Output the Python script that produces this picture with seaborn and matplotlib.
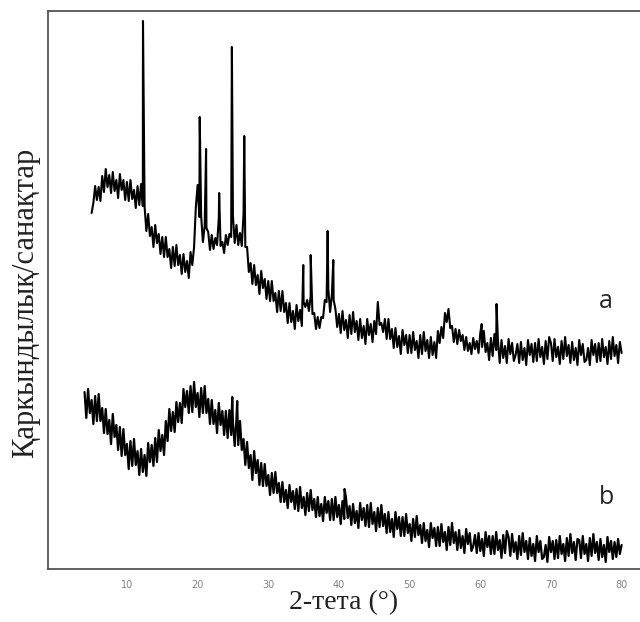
import numpy as np
import pandas as pd
import seaborn as sns
import matplotlib.pyplot as plt

# curve a: 5..80 deg, step 0.25
two_theta_a = np.arange(5, 80.001, 0.25)
intensity_a = [
    356, 366, 383, 369, 382, 368, 393, 377, 400, 382, 394, 376, 397, 378, 389, 371, 395, 379, 389, 369,
    387, 368, 389, 370, 379, 361, 383, 364, 385, 363, 362, 338, 355, 333, 342, 322, 344, 326, 335, 315,
    332, 312, 332, 312, 320, 301, 322, 303, 324, 304, 314, 295, 315, 297, 308, 291, 317, 304, 322, 362,
    384, 352, 353, 327, 343, 341, 337, 319, 334, 320, 331, 324, 351, 323, 327, 316, 334, 324, 335, 332,
    353, 326, 344, 324, 336, 323, 355, 322, 322, 297, 306, 285, 304, 284, 294, 275, 298, 281, 290, 270,
    288, 268, 288, 268, 276, 257, 278, 258, 278, 257, 266, 246, 266, 247, 258, 240, 264, 248, 259, 243,
    267, 262, 269, 258, 273, 255, 256, 240, 252, 241, 252, 251, 269, 267, 280, 257, 274, 269, 260, 242,
    255, 236, 258, 239, 249, 231, 254, 235, 257, 237, 248, 229, 250, 231, 243, 225, 250, 234, 245, 227,
    248, 235, 267, 244, 246, 237, 250, 230, 250, 230, 240, 221, 241, 222, 233, 215, 239, 224, 234, 216,
    234, 216, 237, 219, 228, 211, 234, 215, 237, 218, 229, 211, 232, 214, 227, 211, 238, 226, 242, 231,
    256, 247, 260, 241, 243, 227, 240, 225, 239, 228, 234, 219, 232, 218, 226, 215, 231, 220, 228, 216,
    236, 222, 238, 217, 226, 209, 231, 213, 235, 219, 228, 206, 229, 211, 223, 206, 230, 215, 226, 208,
    214, 225, 206, 227, 209, 221, 204, 229, 214, 225, 207, 226, 208, 230, 212, 222, 205, 228, 210, 232,
    226, 208, 230, 212, 222, 205, 228, 210, 232, 213, 224, 206, 227, 209, 221, 204, 229, 214, 225, 207,
    209, 221, 204, 229, 214, 225, 207, 226, 208, 230, 212, 222, 205, 228, 210, 232, 213, 224, 206, 227,
    216,
]
peak_pos_a = [12.27, 20.3, 21.2, 23.05, 24.85, 26.6, 34.95, 36.0, 38.4, 39.2, 45.5, 60.2, 62.3]
peak_top_a = [548, 452, 420, 376, 522, 433, 304, 314, 338, 309, 267, 245, 265]

# curve b: 4..80 deg, step 0.25
two_theta_b = np.arange(4, 80.001, 0.25)
intensity_b = [
    177, 151, 180, 156, 169, 145, 173, 148, 175, 148, 161, 136, 160, 135, 149, 125, 155, 132, 144, 119,
    142, 113, 140, 114, 125, 100, 128, 103, 130, 104, 118, 94, 120, 97, 114, 93, 126, 107, 124, 103,
    131, 107, 139, 118, 134, 114, 148, 128, 160, 138, 157, 137, 167, 147, 166, 146, 180, 162, 178, 156,
    183, 157, 187, 162, 176, 152, 181, 156, 183, 156, 170, 145, 169, 145, 159, 136, 166, 144, 158, 134,
    158, 131, 159, 134, 146, 123, 151, 124, 148, 119, 130, 104, 127, 101, 114, 89, 118, 96, 109, 84,
    106, 83, 105, 83, 94, 74, 96, 76, 97, 76, 86, 67, 87, 67, 79, 61, 84, 67, 78, 60,
    80, 58, 82, 61, 72, 54, 76, 58, 79, 59, 70, 52, 72, 53, 65, 48, 72, 56, 68, 49,
    70, 49, 72, 52, 64, 45, 68, 50, 71, 51, 63, 44, 65, 46, 58, 41, 66, 49, 61, 43,
    64, 42, 66, 45, 57, 38, 61, 42, 64, 43, 55, 36, 57, 37, 50, 32, 57, 40, 52, 33,
    52, 33, 55, 36, 45, 28, 50, 32, 53, 34, 44, 26, 46, 28, 39, 22, 46, 31, 41, 23,
    42, 23, 45, 27, 37, 19, 42, 24, 46, 26, 37, 19, 39, 21, 33, 16, 40, 25, 36, 18,
    23, 34, 16, 36, 18, 30, 13, 37, 22, 33, 15, 33, 15, 37, 19, 29, 11, 34, 16, 38,
    32, 13, 35, 17, 27, 10, 33, 14, 36, 17, 28, 10, 31, 13, 25, 8, 33, 17, 28, 10,
    12, 24, 7, 32, 17, 28, 10, 29, 11, 33, 15, 25, 8, 31, 13, 35, 16, 27, 9, 30,
    29, 11, 33, 15, 25, 8, 31, 13, 35, 16, 27, 9, 30, 12, 24, 7, 32, 17, 28, 10,
    27, 12, 30, 15, 24,
]
spike_pos_b = [24.9, 25.6, 40.8]
spike_top_b = [172, 168, 80]

tick_vals = [10, 20, 30, 40, 50, 60, 70, 80]
curve_labels = ["a", "b"]

df_a = pd.DataFrame({
    "theta": np.concatenate([two_theta_a, peak_pos_a]),
    "counts": np.concatenate([intensity_a, peak_top_a]),
})
df_b = pd.DataFrame({
    "theta": np.concatenate([two_theta_b, spike_pos_b]),
    "counts": np.concatenate([intensity_b, spike_top_b]),
})

sns.set_style("white")
fig = plt.figure(figsize=(6.4, 6.22), dpi=100)
ax = fig.add_axes([0.075, 0.0852, 0.925, 0.8971])

sns.lineplot(data=df_a, x="theta", y="counts", estimator=None, sort=True,
             color="black", linewidth=1.5, ax=ax)
sns.lineplot(data=df_b, x="theta", y="counts", estimator=None, sort=True,
             color="black", linewidth=1.6, ax=ax)

ax.set_xlim(-1.17, 82.6)
ax.set_ylim(0, 558)
ax.set_xticks(tick_vals)
ax.set_xticklabels([str(t) for t in tick_vals], color="#808080", fontsize=7)
ax.set_yticks([])
ax.tick_params(axis="x", direction="in", length=4, width=1, color="#777777", pad=8)

for side in ["left", "bottom", "top"]:
    ax.spines[side].set_color("#555555")
    ax.spines[side].set_linewidth(1.3)
ax.spines["right"].set_visible(False)

ax.set_xlabel("2-тета (°)", family="Liberation Serif", fontsize=20, color="#222222", labelpad=0)
ax.set_ylabel("Қаркындылық/санақтар", family="Liberation Serif", fontsize=22, color="#222222")
ax.yaxis.set_label_coords(-0.014, 0.477)

ax.text(77.8, 268, curve_labels[0], family="Open Sans", fontsize=18, ha="center", va="center")
ax.text(77.8, 72, curve_labels[1], family="Open Sans", fontsize=18, ha="center", va="center")

fig.savefig("out.png", dpi=100)
